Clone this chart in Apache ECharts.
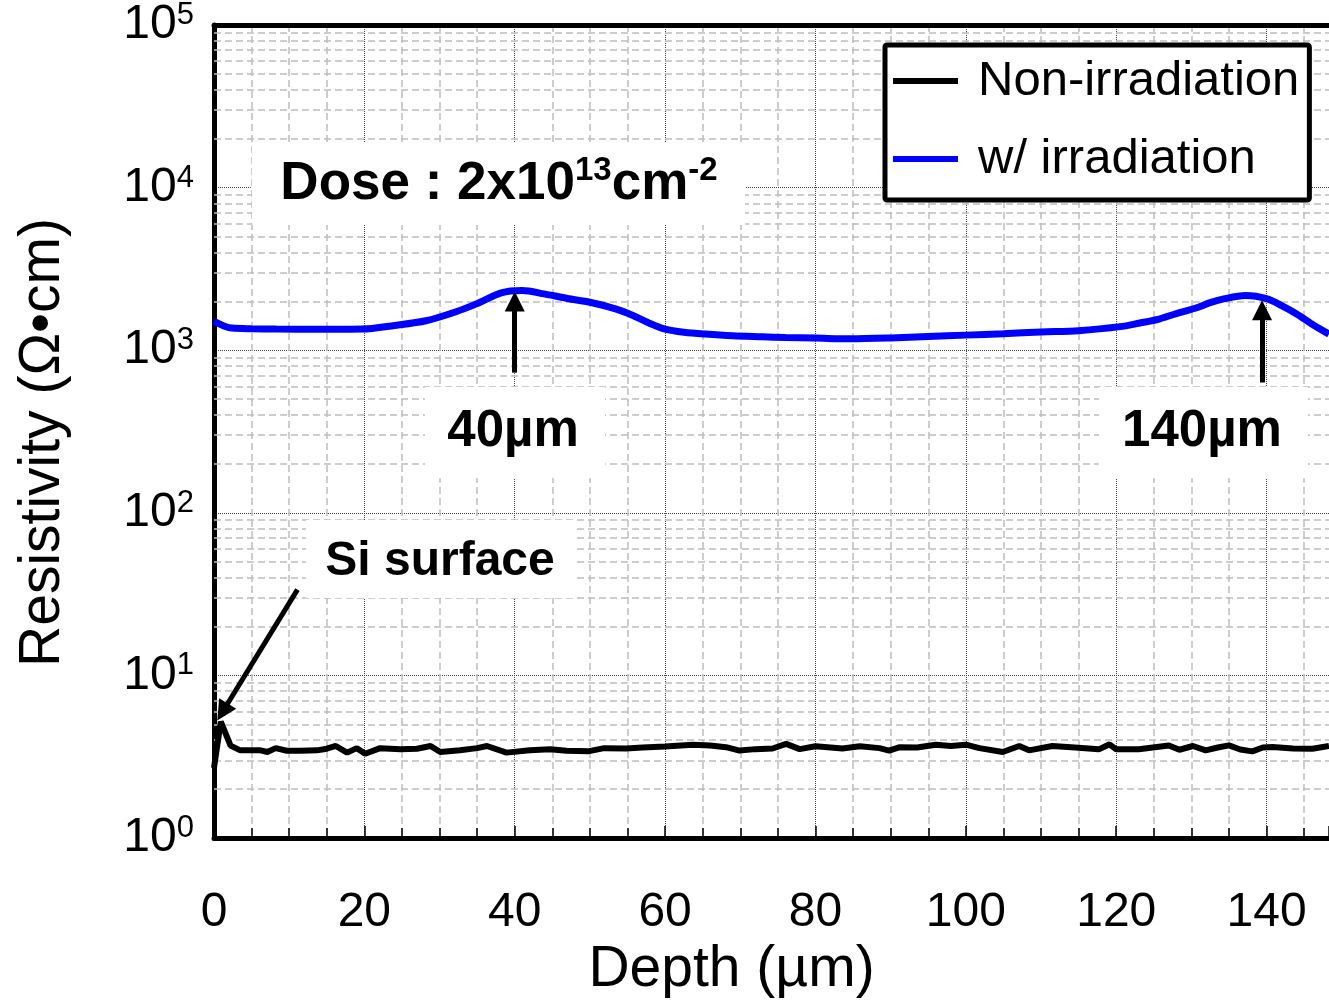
<!DOCTYPE html>
<html>
<head>
<meta charset="utf-8">
<script src="https://cdn.jsdelivr.net/npm/echarts@6/dist/echarts.min.js"></script>
<style>
html, body { margin: 0; padding: 0; background: #fff; }
#chart { width: 1329px; height: 1004px; }
</style>
</head>
<body>
<div id="chart"></div>
<script>
// Non-irradiation (black)
const depthNon = [0, 0.9, 2.2, 3.5, 4.9, 6.2, 7.1, 8.2, 9.7, 11.5, 13.7, 15, 16.2, 17.7, 19, 20.1, 22.1, 24.8, 27, 28.8,
                  30.1, 32.7, 35, 36.3, 38.9, 42, 44.7, 46.9, 49.9, 51.9, 54.8, 57, 60, 63.7, 66, 68.1, 69.9, 72, 74.3, 76.1,
                  77.9, 80, 83.6, 85.9, 88.5, 89.8, 91.2, 93.5, 96, 98, 100, 101.8, 104.9, 107.1, 108.4, 111.5, 114.5, 117.7, 119.1, 120,
                  123, 127, 128.4, 130.2, 131.9, 133.5, 135, 136.5, 138.1, 139.5, 140.8, 143.5, 146.1, 148.3];
const resNon   = [2.7, 5.2, 3.7, 3.46, 3.46, 3.46, 3.38, 3.57, 3.44, 3.44, 3.46, 3.54, 3.68, 3.35, 3.57, 3.30, 3.57, 3.51, 3.54, 3.68,
                  3.38, 3.46, 3.57, 3.68, 3.35, 3.46, 3.51, 3.44, 3.42, 3.57, 3.55, 3.60, 3.65, 3.74, 3.70, 3.62, 3.45, 3.52, 3.55, 3.79,
                  3.52, 3.67, 3.55, 3.67, 3.57, 3.45, 3.62, 3.60, 3.75, 3.68, 3.75, 3.57, 3.38, 3.68, 3.46, 3.68, 3.60, 3.51, 3.77, 3.51,
                  3.51, 3.71, 3.49, 3.68, 3.46, 3.60, 3.71, 3.50, 3.41, 3.60, 3.63, 3.55, 3.54, 3.68];

// w/ irradiation (blue)
const depthIrr = [0, 0.3, 1.5, 2.4, 5, 8.3, 14, 19.7, 24, 28.2, 32, 34.9, 38.2, 41, 43.9, 47, 50, 53.4, 55.8, 58,
                  60, 62.5, 65.3, 69, 72.9, 76, 80, 84.6, 90, 95, 100, 105, 110, 115, 120.8, 123, 125.7, 128, 130.5, 132.5,
                  134.3, 137.2, 140.1, 142, 144, 146, 148.3];
const resIrr   = [1510, 1484, 1400, 1368, 1355, 1349, 1345, 1349, 1420, 1517, 1711, 1927, 2253, 2329, 2220, 2080, 1972, 1796, 1631, 1460,
                  1349, 1290, 1256, 1225, 1208, 1195, 1187, 1175, 1190, 1215, 1238, 1262, 1295, 1318, 1401, 1465, 1555, 1680, 1811, 1960,
                  2067, 2167, 2067, 1880, 1670, 1450, 1256];

const yDecades = [1, 10, 100, 1000, 10000, 100000];

// annotation arrows [depth, resistivity]
const arrowFrom = [[40, 728], [139.4, 633], [11.1, 33.7]];
const arrowTo   = [[40, 1995], [139.4, 1758], [1.13, 5.95]];

const FONT = 'Arial, "Liberation Sans", Helvetica, sans-serif';
const chart = echarts.init(document.getElementById('chart'));

const minorY = [];
yDecades.slice(0, -1).forEach(d => {
    for (let k = 2; k <= 9; k++) minorY.push({ yAxis: d * k });
});

const dashed = { color: '#bdbdbd', width: 1.5, type: [7, 4] };
const dotted = { color: '#444', width: 1, type: 'dotted' };

function note(box, cx, cy, text, rich) {
    return [
        { type: 'rect', shape: box, style: { fill: '#fff' }, z: 5 },
        { type: 'text', x: cx, y: cy, z: 6,
          style: { text: text, rich: rich, align: 'center', verticalAlign: 'middle' } }
    ];
}
const bold = size => ({ fontFamily: FONT, fontSize: size, fontWeight: 'bold', color: '#000', fill: '#000' });

chart.setOption({
    animation: false,
    backgroundColor: '#fff',
    grid: { left: 214, right: 0, top: 25, bottom: 165 },
    legend: {
        data: ['Non-irradiation', 'w/ irradiation'],
        orient: 'vertical', left: 885, top: 45, icon: 'rect',
        padding: [11, 10, 16, 8], itemGap: 28, itemWidth: 65, itemHeight: 6,
        backgroundColor: '#fff', borderColor: '#000', borderWidth: 5, borderRadius: 2,
        textStyle: { fontFamily: FONT, fontSize: 49, color: '#000', lineHeight: 50, padding: [0, 0, 0, 15] },
        z: 10
    },
    xAxis: [{
        type: 'value', min: 0, max: 148.3, interval: 20,
        name: 'Depth (µm)', nameLocation: 'middle', nameGap: 104,
        nameTextStyle: { fontFamily: FONT, fontSize: 57, color: '#000', padding: [0, 80, 0, 0] },
        axisLine: { show: true, onZero: false, lineStyle: { color: '#000', width: 5 } },
        axisTick: { show: true, inside: true, length: 12, lineStyle: { color: '#000', width: 1.5 } },
        minorTick: { show: true, splitNumber: 4, length: 10, lineStyle: { color: '#000', width: 1.5 } },
        axisLabel: { fontFamily: FONT, fontSize: 48, color: '#000', margin: 51, showMaxLabel: false },
        splitLine: { show: true, lineStyle: dotted },
        minorSplitLine: { show: true, lineStyle: dashed }
    }, {
        type: 'value', position: 'top', min: 0, max: 148.3,
        axisLine: { show: true, onZero: false, lineStyle: { color: '#000', width: 5 } },
        axisTick: { show: false }, axisLabel: { show: false }, splitLine: { show: false }
    }],
    yAxis: {
        type: 'log', logBase: 10, min: 1, max: 100000, splitNumber: 5,
        name: 'Resistivity (Ω•cm)', nameLocation: 'middle', nameGap: 142,
        nameTextStyle: { fontFamily: FONT, fontSize: 57, color: '#000', padding: [0, 22, 0, 0] },
        axisLine: { show: true, onZero: false, lineStyle: { color: '#000', width: 5 } },
        axisTick: { show: false },
        axisLabel: {
            margin: 20,
            formatter: v => '{b|10}{s|' + Math.round(Math.log10(v)) + '}',
            rich: {
                b: { fontFamily: FONT, fontSize: 48, color: '#000', lineHeight: 50 },
                s: { fontFamily: FONT, fontSize: 31, color: '#000', lineHeight: 30, verticalAlign: 'top' }
            }
        },
        splitLine: { show: true, lineStyle: dotted }
    },
    series: [
        {
            name: 'Non-irradiation', type: 'line', symbol: 'none', z: 3,
            data: depthNon.map((d, i) => [d, resNon[i]]),
            lineStyle: { color: '#000', width: 6 }, itemStyle: { color: '#000' }
        },
        {
            name: 'w/ irradiation', type: 'line', symbol: 'none', smooth: 0.3, z: 3,
            data: depthIrr.map((d, i) => [d, resIrr[i]]),
            lineStyle: { color: '#0000ff', width: 7 }, itemStyle: { color: '#0000ff' }
        },
        {
            name: 'minor-grid', type: 'line', data: [],
            markLine: { silent: true, symbol: 'none', z: 1, label: { show: false },
                        lineStyle: dashed, data: minorY }
        },
        {
            name: 'arrows', type: 'line', data: [],
            markLine: {
                silent: true, z: 6, symbol: ['none', 'triangle'], symbolSize: 20,
                label: { show: false },
                lineStyle: { color: '#000', width: 5, type: 'solid' },
                data: arrowFrom.map((p, i) => [{ coord: p }, { coord: arrowTo[i] }])
            }
        }
    ],
    graphic: [
        ...note({ x: 252, y: 143, width: 493, height: 82 }, 499, 184,
                '{a|Dose : 2x10}{s|13}{a|cm}{s|-2}',
                { a: Object.assign(bold(53), { lineHeight: 60 }),
                  s: Object.assign(bold(33), { lineHeight: 33, verticalAlign: 'top' }) }),
        ...note({ x: 425, y: 387, width: 180, height: 91 }, 513, 432, '{a|40µm}', { a: bold(51) }),
        ...note({ x: 1099, y: 387, width: 209, height: 91 }, 1202, 432, '{a|140µm}', { a: bold(51) }),
        ...note({ x: 306, y: 520, width: 271, height: 78 }, 440, 562, '{a|Si surface}', { a: bold(48) })
    ]
});
</script>
</body>
</html>
